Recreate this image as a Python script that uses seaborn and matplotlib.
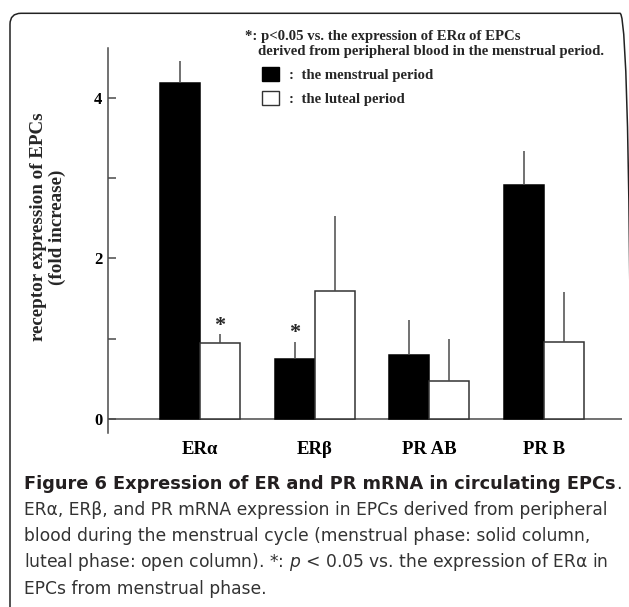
import numpy as np
import pandas as pd
import matplotlib
matplotlib.use("Agg")
import matplotlib.pyplot as plt
import seaborn as sns
from matplotlib.patches import Patch, FancyBboxPatch
from matplotlib.transforms import IdentityTransform

# ---------------- data ----------------
categories = ["ERα", "ERβ", "PR AB", "PR B"]
periods = ["menstrual", "luteal"]
menstrual_mean = [4.18, 0.75, 0.80, 2.91]
menstrual_err = [0.27, 0.21, 0.43, 0.42]
luteal_mean = [0.945, 1.59, 0.47, 0.96]
luteal_err = [0.11, 0.93, 0.53, 0.62]
significant = [("ERα", "luteal"), ("ERβ", "menstrual")]
yticks = [0, 1, 2, 3, 4]
ytick_labels = ["0", "", "2", "", "4"]
legend_labels = [":  the menstrual period", ":  the luteal period"]
note_lines = ["*: p<0.05 vs. the expression of ERα of EPCs",
              "derived from peripheral blood in the menstrual period."]
ylabel = "receptor expression of EPCs\n(fold increase)"
caption_title = "Figure 6 Expression of ER and PR mRNA in circulating EPCs"
caption_lines = [
    "ERα, ERβ, and PR mRNA expression in EPCs derived from peripheral",
    "blood during the menstrual cycle (menstrual phase: solid column,",
    "luteal phase: open column). *: $\\mathit{p}$ < 0.05 vs. the expression of ERα in",
    "EPCs from menstrual phase.",
]

df = pd.DataFrame({
    "receptor": categories * 2,
    "period": [periods[0]] * 4 + [periods[1]] * 4,
    "value": menstrual_mean + luteal_mean,
    "err": menstrual_err + luteal_err,
})

# ---------------- style ----------------
sns.set_theme(style="white")
plt.rcParams["font.family"] = ["Liberation Serif", "DejaVu Serif"]
plt.rcParams["mathtext.fontset"] = "dejavusans"

W, H = 629, 607
fig = plt.figure(figsize=(W / 100, H / 100), dpi=100)
fig.patch.set_facecolor("white")

ax_left, ax_right, ax_top, ax_bot = 108, 622, 47.7, 432.7
ax = fig.add_axes([ax_left / W, 1 - ax_bot / H, (ax_right - ax_left) / W, (ax_bot - ax_top) / H])
ax.set_facecolor("white")

sns.barplot(data=df, x="receptor", y="value", hue="period", order=categories,
            hue_order=periods, palette={"menstrual": "black", "luteal": "white"},
            width=0.7, errorbar=None, legend=False, ax=ax, saturation=1)

axis_col = "#4a4a4a"
edge_cols = {"menstrual": "black", "luteal": "#333333"}
for cont, per in zip(ax.containers, periods):
    sub = df[df["period"] == per].set_index("receptor").loc[categories]
    xs, ys = [], []
    for bar in cont:
        bar.set_edgecolor(edge_cols[per])
        bar.set_linewidth(1.1)
        xs.append(bar.get_x() + bar.get_width() / 2)
        ys.append(bar.get_height())
    errs = sub["err"].values
    ax.errorbar(xs, ys, yerr=[np.zeros(len(errs)), errs], fmt="none",
                ecolor=axis_col, elinewidth=1.1, capsize=0, zorder=1)
    for cat, x, y, e in zip(categories, xs, ys, errs):
        if (cat, per) in significant:
            ax.annotate("*", (x, y + e), xytext=(0, 2.5), textcoords="offset points",
                        ha="center", va="baseline", fontsize=16, fontweight="bold")

ax.set_xlim(-0.802, 3.68)
ax.set_ylim(-0.17, 4.62)
ax.axhline(0, color=axis_col, lw=1.1, zorder=0.5)
for s in ["top", "right", "bottom"]:
    ax.spines[s].set_visible(False)
ax.spines["left"].set_color(axis_col)
ax.spines["left"].set_linewidth(1.1)
ax.set_yticks(yticks, ytick_labels, fontweight="bold", fontsize=12)
ax.set_xticks(range(len(categories)), categories, fontweight="bold", fontsize=13.5)
ax.tick_params(axis="y", direction="in", length=5.8, width=1.1, color=axis_col, pad=4,
               left=True, labelcolor="black")
ax.tick_params(axis="x", length=0, pad=6, labelcolor="black")
ax.set_xlabel("")
ax.set_ylabel("")

fig.text(48 / W, 1 - 227 / H, ylabel, rotation=90, ha="center", va="center",
         fontsize=13.7, fontweight="bold", multialignment="center")

fig.text(245 / W, 1 - 36.7 / H, note_lines[0], ha="left", va="center",
         fontsize=10.6, fontweight="bold")
fig.text(258 / W, 1 - 51 / H, note_lines[1], ha="left", va="center",
         fontsize=10.6, fontweight="bold")

fs = 10.6 * 100 / 72
handles = [Patch(facecolor="black", edgecolor="black", linewidth=1),
           Patch(facecolor="white", edgecolor="#333333", linewidth=1)]
fig.legend(handles, legend_labels, loc="upper left",
           bbox_to_anchor=(261.7 / W, 1 - 66.7 / H), frameon=False,
           borderpad=0, borderaxespad=0, handlelength=17.6 / fs,
           handleheight=16.6 / fs, handletextpad=9.5 / fs, labelspacing=0.59,
           prop=dict(weight="bold", size=10.6))

# ---------------- caption (font size fitted to the reference line widths) ----------------
cap_family = "DejaVu Sans"
cap_col = "#231f20"
renderer = fig.canvas.get_renderer()

t = fig.text(24 / W, 1 - 484 / H, caption_title, ha="left", va="center",
             fontsize=12, fontweight="bold", family=cap_family, color=cap_col)
w = t.get_window_extent(renderer).width
t.set_fontsize(12 * (611.7 - 24) / w)
fig.canvas.draw()
bb = t.get_window_extent(renderer)

body = []
for i, line in enumerate(caption_lines):
    body.append(fig.text(24 / W, 1 - (510 + 26.2 * i) / H, line, ha="left", va="center",
                         fontsize=12, family=cap_family, color="#333333"))
w2 = body[0].get_window_extent(renderer).width
body_fs = 12 * (605 - 24) / w2
for b in body:
    b.set_fontsize(body_fs)
fig.text(bb.x1 / W, 1 - 484 / H, ".", ha="left", va="center", fontsize=body_fs,
         family=cap_family, color=cap_col)

box = FancyBboxPatch((10, -12), 621, 607 - 13.3 + 12,
                     boxstyle="round,pad=0,rounding_size=11",
                     transform=IdentityTransform(), fill=False,
                     edgecolor="#222222", linewidth=1.1)
fig.add_artist(box)

fig.savefig("out.png", dpi=100, facecolor="white")
